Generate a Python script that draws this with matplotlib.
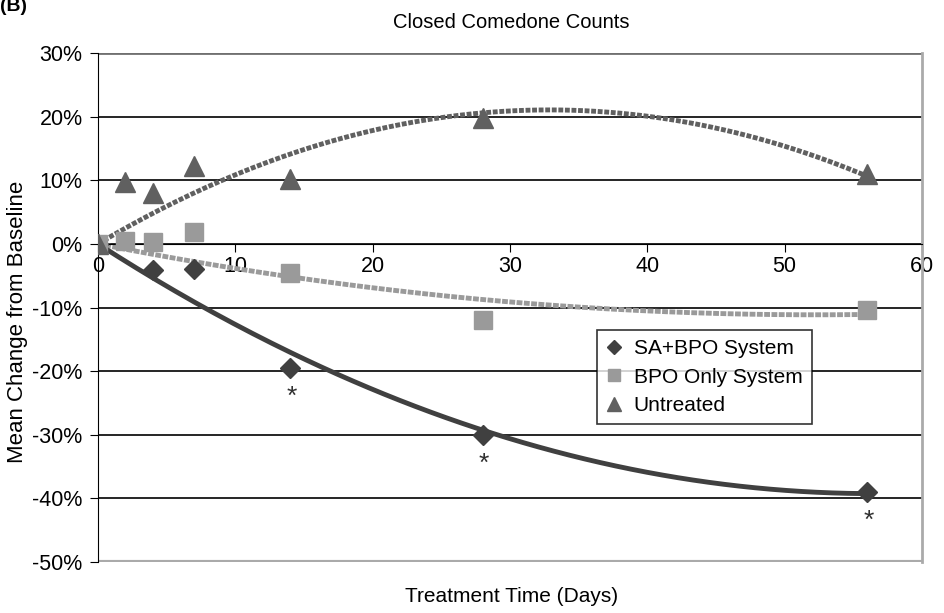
import numpy as np
import matplotlib
matplotlib.use("Agg")
from matplotlib import pyplot as plt
from matplotlib.ticker import FuncFormatter

plt.rcParams['font.family'] = ['Liberation Sans', 'DejaVu Sans']

# data (% change from baseline)
sa_days = [0, 4, 7, 14, 28, 56]
sa_vals = [0, -4.1, -4.0, -19.5, -30.0, -39.0]
bpo_days = [0, 2, 4, 7, 14, 28, 56]
bpo_vals = [0, 0.5, 0.3, 1.9, -4.5, -12.0, -10.4]
unt_days = [0, 2, 4, 7, 14, 28, 56]
unt_vals = [0, 9.8, 8.0, 12.3, 10.2, 19.8, 11.0]
star_days = [14, 28, 56]

c_sa = '#404040'
c_bpo = '#9a9a9a'
c_unt = '#606060'


def trend(x, y):
    # 2nd order polynomial through origin, like a spreadsheet trendline
    x = np.asarray(x, float)
    y = np.asarray(y, float)
    A = np.column_stack([x, x ** 2])
    b, a = np.linalg.lstsq(A, y, rcond=None)[0]
    xs = np.linspace(0, max(x), 200)
    return xs, b * xs + a * xs ** 2


fig = plt.figure(figsize=(9.44, 6.13), dpi=100)
ax = fig.add_axes([0.1038, 0.0832, 0.8729, 0.8303])

xs, ys = trend(unt_days, unt_vals)
ax.plot(xs, ys, color=c_unt, lw=3.5, ls=(0, (1.0, 0.35)), zorder=2)
xs, ys = trend(bpo_days, bpo_vals)
ax.plot(xs, ys, color=c_bpo, lw=3.5, ls=(0, (1.2, 0.3)), zorder=2)
xs, ys = trend(sa_days, sa_vals)
ax.plot(xs, ys, color=c_sa, lw=3.5, zorder=2)

ax.plot(sa_days, sa_vals, 'D', color=c_sa, ms=10, ls='none', label='SA+BPO System', zorder=3)
ax.plot(bpo_days, bpo_vals, 's', color=c_bpo, ms=13, ls='none', label='BPO Only System', zorder=3)
ax.plot(unt_days, unt_vals, '^', color=c_unt, ms=14, ls='none', label='Untreated', zorder=3)

for d in star_days:
    v = sa_vals[sa_days.index(d)]
    ax.text(d + 0.1, v - 4.6, '*', ha='center', va='center', fontsize=19, color='#303030')

ax.set_xlim(0, 60)
ax.set_ylim(-50, 30)
ax.set_xticks(range(0, 61, 10))
ax.set_yticks(range(-50, 31, 10))
ax.yaxis.set_major_formatter(FuncFormatter(lambda v, p: '%d%%' % v))
ax.yaxis.grid(True, color='black', lw=1.2)
ax.set_axisbelow(True)

ax.spines['bottom'].set_position(('data', 0))
ax.spines['bottom'].set_color('black')
ax.spines['left'].set_color('black')
ax.spines['top'].set_visible(False)
ax.spines['right'].set_color('#aaaaaa')
ax.spines['right'].set_linewidth(2)
ax.axhline(-50, color='#aaaaaa', lw=3, zorder=1)
ax.axhline(30, color='#707070', lw=2, zorder=1)
ax.tick_params(axis='x', direction='out', length=6, labelsize=15.5, pad=3)
ax.tick_params(axis='y', direction='out', length=6, labelsize=15.5, pad=5)

fig.text(0.019, 0.475, 'Mean Change from Baseline', rotation=90, ha='center', va='center', fontsize=16)
fig.text(0.542, 0.018, 'Treatment Time (Days)', ha='center', fontsize=15)
fig.text(0.542, 0.955, 'Closed Comedone Counts', ha='center', fontsize=14.5)
fig.text(0.0, 0.975, '(B)', fontsize=14, fontweight='bold', va='bottom')

leg = ax.legend(loc='upper left', bbox_to_anchor=(0.606, 0.456), fontsize=15,
                frameon=True, fancybox=False, edgecolor='black', handlelength=0.7,
                handletextpad=0.6, borderpad=0.45, labelspacing=0.45, markerscale=0.7,
                borderaxespad=0)
leg.get_frame().set_linewidth(1.2)

fig.savefig('out.png', dpi=100)
